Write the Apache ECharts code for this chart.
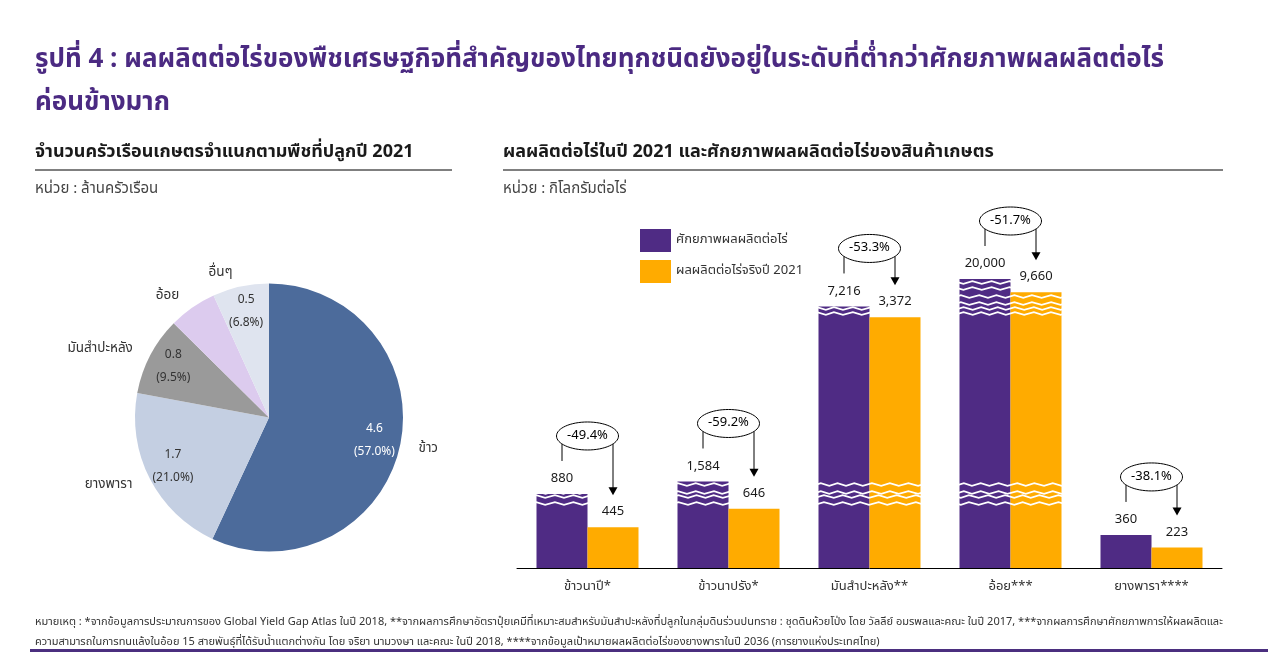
<!DOCTYPE html>
<html>
<head>
<meta charset="utf-8">
<script src="https://cdn.jsdelivr.net/npm/echarts@6/dist/echarts.min.js"></script>
<style>
html,body{margin:0;padding:0;background:#fff;}
#c{width:1268px;height:652px;}
</style>
</head>
<body>
<div id="c"></div>
<script>
// ---------- data ----------
const pieNames = ['ข้าว', 'ยางพารา', 'มันสำปะหลัง', 'อ้อย', 'อื่นๆ'];
const households = [4.6, 1.7, 0.8, 0.5, 0.5];      // ล้านครัวเรือน
const shares = [57.0, 21.0, 9.5, 5.8, 6.8];        // %
const crops = ['ข้าวนาปี*', 'ข้าวนาปรัง*', 'มันสำปะหลัง**', 'อ้อย***', 'ยางพารา****'];
const potential = [880, 1584, 7216, 20000, 360];   // กิโลกรัมต่อไร่
const actual = [445, 646, 3372, 9660, 223];
const seriesNames = ['ศักยภาพผลผลิตต่อไร่', 'ผลผลิตต่อไร่จริงปี 2021'];

// ---------- styles ----------
const FONT = '"Noto Sans Thai", "Noto Sans", "DejaVu Sans", sans-serif';
const PURPLE = '#4f2b84';
const ORANGE = '#ffab00';
const pieColors = ['#4c6b9b', '#c4cfe2', '#9a9a9a', '#dccbee', '#dfe4ef'];
const BAR_W = 51;

const fmt = v => v.toLocaleString('en-US');

const chart = echarts.init(document.getElementById('c'));

const pieOuter = pieNames.map((n, i) => ({ name: n, value: shares[i] }));
const pieInner = pieNames.map((n, i) => ({
  name: n, value: shares[i],
  label: { color: i === 0 ? '#ffffff' : '#333333' }
}));

const annData = crops.map((c, i) => [i, potential[i], actual[i]]);

chart.setOption({
  animation: false,
  textStyle: { fontFamily: FONT },
  graphic: [
    { type: 'text', left: 35, top: 49, style: { text: 'รูปที่ 4 : ผลผลิตต่อไร่ของพืชเศรษฐกิจที่สำคัญของไทยทุกชนิดยังอยู่ในระดับที่ต่ำกว่าศักยภาพผลผลิตต่อไร่', font: 'bold 26px ' + FONT, fill: '#4b2a82' } },
    { type: 'text', left: 35, top: 92, style: { text: 'ค่อนข้างมาก', font: 'bold 26px ' + FONT, fill: '#4b2a82' } },
    { type: 'text', left: 35, top: 144, style: { text: 'จำนวนครัวเรือนเกษตรจำแนกตามพืชที่ปลูกปี 2021', font: 'bold 18px ' + FONT, fill: '#1a1a1a' } },
    { type: 'line', shape: { x1: 35, y1: 170, x2: 452, y2: 170 }, style: { stroke: '#000', lineWidth: 1 } },
    { type: 'text', left: 35, top: 182, style: { text: 'หน่วย : ล้านครัวเรือน', font: '15px ' + FONT, fill: '#444' } },
    { type: 'text', left: 503, top: 144, style: { text: 'ผลผลิตต่อไร่ในปี 2021 และศักยภาพผลผลิตต่อไร่ของสินค้าเกษตร', font: 'bold 18px ' + FONT, fill: '#1a1a1a' } },
    { type: 'line', shape: { x1: 503, y1: 170, x2: 1223, y2: 170 }, style: { stroke: '#000', lineWidth: 1 } },
    { type: 'text', left: 503, top: 182, style: { text: 'หน่วย : กิโลกรัมต่อไร่', font: '15px ' + FONT, fill: '#444' } },
    { type: 'text', left: 35, top: 617, style: { text: 'หมายเหตุ : *จากข้อมูลการประมาณการของ Global Yield Gap Atlas ในปี 2018, **จากผลการศึกษาอัตราปุ๋ยเคมีที่เหมาะสมสำหรับมันสำปะหลังที่ปลูกในกลุ่มดินร่วนปนทราย : ชุดดินห้วยโป่ง โดย วัลลีย์ อมรพลและคณะ ในปี 2017, ***จากผลการศึกษาศักยภาพการให้ผลผลิตและ', font: '11px ' + FONT, fill: '#333' } },
    { type: 'text', left: 35, top: 637, style: { text: 'ความสามารถในการทนแล้งในอ้อย 15 สายพันธุ์ที่ได้รับน้ำแตกต่างกัน โดย จริยา นามวงษา และคณะ ในปี 2018, ****จากข้อมูลเป้าหมายผลผลิตต่อไร่ของยางพาราในปี 2036 (การยางแห่งประเทศไทย)', font: '11px ' + FONT, fill: '#333' } },
    { type: 'rect', shape: { x: 30, y: 649, width: 1238, height: 3 }, style: { fill: '#4b2f7f' } }
  ],
  legend: {
    data: seriesNames,
    orient: 'vertical', left: 635, top: 224,
    itemWidth: 31, itemHeight: 23, itemGap: 8, icon: 'rect', z: 20,
    textStyle: { fontSize: 13, color: '#333', fontFamily: FONT }
  },
  grid: { left: 517, right: 46, top: 279, bottom: 84 },
  xAxis: {
    type: 'category', data: crops,
    axisLine: { lineStyle: { color: '#000', width: 1 } },
    axisTick: { show: false },
    axisLabel: { fontSize: 13, color: '#333', margin: 13, fontFamily: FONT }
  },
  yAxis: {
    type: 'value', min: 0, max: 20000,
    axisLine: { show: false }, axisTick: { show: false },
    axisLabel: { show: false }, splitLine: { show: false },
    breaks: [
      { start: 700, end: 850, gap: 76 },
      { start: 900, end: 1550, gap: 82 },
      { start: 3420, end: 7200, gap: 54 },
      { start: 7250, end: 9620, gap: 80 },
      { start: 9700, end: 19960, gap: 65 }
    ],
    breakArea: {
      show: true,
      itemStyle: { color: 'rgba(255,255,255,0)', borderColor: '#ffffff', borderWidth: 1.6, borderType: 'solid', opacity: 1 },
      zigzagAmplitude: 1.3, zigzagMinSpan: 8, zigzagMaxSpan: 10, zigzagZ: 5,
      expandOnClick: false
    }
  },
  series: [
    {
      type: 'pie', center: [269, 417.5], radius: 134, startAngle: 90,
      data: pieOuter, color: pieColors, silent: true,
      label: { position: 'outside', formatter: '{b}', fontSize: 13.5, color: '#333', fontFamily: FONT },
      labelLine: { show: false, length: 14, length2: 0 },
      emphasis: { disabled: true }
    },
    {
      type: 'pie', center: [269, 417.5], radius: [76, 134], startAngle: 90,
      data: pieInner, silent: true,
      itemStyle: { color: 'rgba(0,0,0,0)' },
      label: {
        position: 'inside', fontSize: 12, lineHeight: 23, fontFamily: FONT,
        formatter: p => households[p.dataIndex].toFixed(1) + '\n(' + shares[p.dataIndex].toFixed(1) + '%)'
      },
      labelLine: { show: false },
      emphasis: { disabled: true }
    },
    {
      name: seriesNames[0], type: 'bar', data: potential, barWidth: BAR_W, barGap: '0%',
      itemStyle: { color: PURPLE }, z: 2
    },
    {
      name: seriesNames[1], type: 'bar', data: actual, barWidth: BAR_W, barGap: '0%',
      itemStyle: { color: ORANGE }, z: 2
    },
    {
      type: 'custom', z: 10, clip: false, silent: true,
      data: annData,
      encode: { x: 0, y: 1 },
      renderItem: function (params, api) {
        const i = api.value(0), p = api.value(1), a = api.value(2);
        const pt = api.coord([i, p]);
        const at = api.coord([i, a]);
        const half = BAR_W / 2;
        const xl = pt[0] - half, xr = pt[0] + half;
        const rx = 31, ry = 14;
        const ey = pt[1] - 58;
        const dy = ry * Math.sqrt(1 - Math.pow(half / rx, 2));
        const tipY = at[1] - 32;
        const pct = ((a - p) / p * 100).toFixed(1) + '%';
        const tf = '13px ' + FONT;
        return {
          type: 'group',
          children: [
            { type: 'text', style: { text: fmt(p), x: xl, y: pt[1] - 8, align: 'center', verticalAlign: 'bottom', font: tf, fill: '#1a1a1a' } },
            { type: 'text', style: { text: fmt(a), x: xr, y: at[1] - 8, align: 'center', verticalAlign: 'bottom', font: tf, fill: '#1a1a1a' } },
            { type: 'line', shape: { x1: xl, y1: ey + dy, x2: xl, y2: pt[1] - 33 }, style: { stroke: '#000', lineWidth: 1 } },
            { type: 'line', shape: { x1: xr, y1: ey + dy, x2: xr, y2: tipY - 7 }, style: { stroke: '#000', lineWidth: 1 } },
            { type: 'polygon', shape: { points: [[xr - 4.5, tipY - 8], [xr + 4.5, tipY - 8], [xr, tipY]] }, style: { fill: '#000' } },
            { type: 'ellipse', shape: { cx: pt[0], cy: ey, rx: rx, ry: ry }, style: { fill: '#fff', stroke: '#000', lineWidth: 1 } },
            { type: 'text', style: { text: pct, x: pt[0], y: ey, align: 'center', verticalAlign: 'middle', font: tf, fill: '#000' } }
          ]
        };
      }
    }
  ]
});
</script>
</body>
</html>
